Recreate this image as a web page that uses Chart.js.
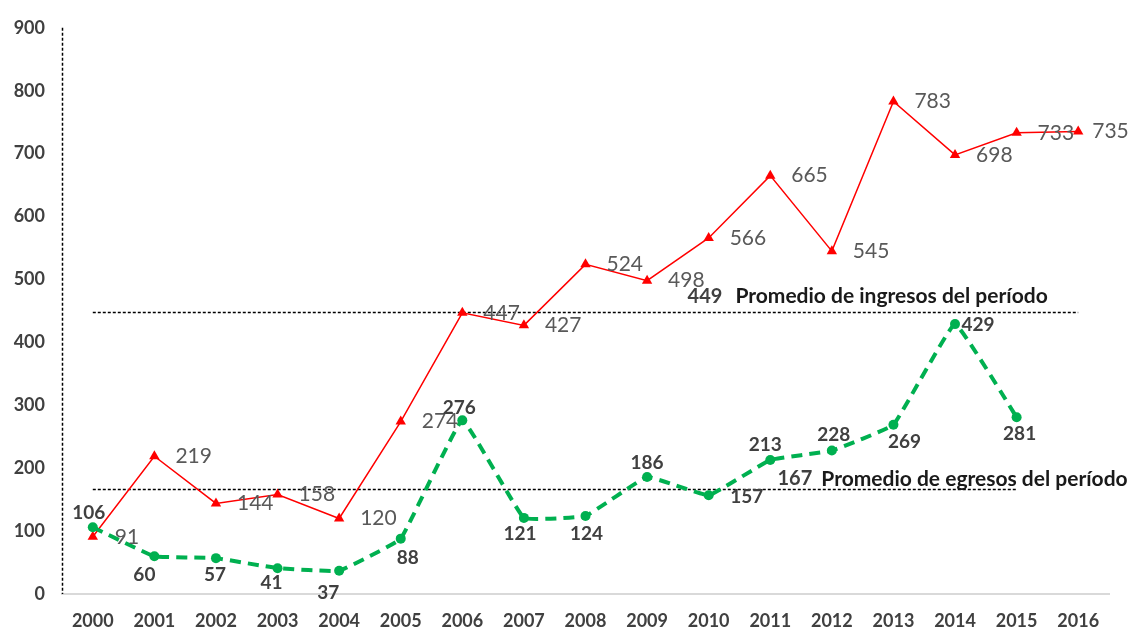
<!DOCTYPE html>
<html><head><meta charset="utf-8">
<script src="https://cdn.jsdelivr.net/npm/chart.js@4/dist/chart.umd.min.js"></script>
<style>html,body{margin:0;padding:0;background:#fff;}#wrap{width:1128px;height:629px;}</style>
</head><body><div id="wrap"><canvas id="c" width="1128" height="629"></canvas></div>
<script>
// ---- data ----
const years = ['2000','2001','2002','2003','2004','2005','2006','2007','2008','2009','2010','2011','2012','2013','2014','2015','2016'];
const ingresos = [91,219,144,158,120,274,447,427,524,498,566,665,545,783,698,733,735];
const egresos = [106,60,57,41,37,88,276,121,124,186,157,213,228,269,429,281];
const yMin = 0, yMax = 900, yStep = 100;
const promedioIngresos = 449;
const promedioEgresos = 167;
const promedioIngresosTexto = 'Promedio de ingresos del período';
const promedioEgresosTexto = 'Promedio de egresos del período';

// ---- label placement (pixels, relative to point) ----
const ingresosLabelDx = [22,21,21,21,21,21,21,21,21,21,21,21,21,21,21,21,14];
const egresosLabelDx = [-4,-10,-1,-6,-11,7,-3,-4,1,0,38,-5,2,11,23,3];
const egresosLabelDy = [-14,19,17,15,22,19,-12,16,18,-14,2,-15,-16,17,1,17];

const FONT = 'Lato, "Open Sans", "DejaVu Sans", sans-serif';

const avgLines = [
  {value: promedioIngresos, from: 0, to: 16, labelAt: 9.94, labelDy: -15, gap: 13, text: promedioIngresosTexto},
  {value: promedioEgresos, from: 0, to: 15, labelAt: 11.4, labelDy: -10, gap: 9, text: promedioEgresosTexto}
];

const avgPlugin = {
  id: 'avgLines',
  beforeDatasetsDraw(chart) {
    const ctx = chart.ctx, x = chart.scales.x, y = chart.scales.y;
    const ca = chart.chartArea;
    ctx.save();
    // dashed left axis
    ctx.beginPath();
    ctx.setLineDash([3, 2]);
    ctx.strokeStyle = '#000';
    ctx.lineWidth = 1.5;
    const lx = Math.round(ca.left) + 0.5;
    ctx.moveTo(lx, ca.top);
    ctx.lineTo(lx, ca.bottom);
    ctx.stroke();
    avgLines.forEach(a => {
      const py = Math.round(y.getPixelForValue(a.value)) + 0.5;
      ctx.beginPath();
      ctx.setLineDash([3, 2]);
      ctx.strokeStyle = '#000';
      ctx.lineWidth = 1.3;
      ctx.moveTo(x.getPixelForValue(a.from), py);
      ctx.lineTo(x.getPixelForValue(a.to), py);
      ctx.stroke();
    });
    ctx.restore();
  },
  afterDatasetsDraw(chart) {
    const ctx = chart.ctx, x = chart.scales.x, y = chart.scales.y;
    ctx.save();
    avgLines.forEach(a => {
      const py = y.getPixelForValue(a.value) + a.labelDy;
      const cx = x.getPixelForValue(a.labelAt);
      ctx.font = 'bold 20px ' + FONT;
      ctx.textBaseline = 'middle';
      ctx.textAlign = 'center';
      ctx.fillStyle = '#404040';
      const num = String(a.value);
      ctx.fillText(num, cx, py);
      const w = ctx.measureText(num).width;
      ctx.textAlign = 'left';
      ctx.fillStyle = '#1a1a1a';
      ctx.font = 'bold 21px ' + FONT;
      ctx.fillText(a.text, cx + w / 2 + a.gap, py);
    });
    ctx.restore();
  }
};

const labelPlugin = {
  id: 'pointLabels',
  afterDatasetsDraw(chart) {
    const ctx = chart.ctx;
    ctx.save();
    ctx.textBaseline = 'middle';
    const m0 = chart.getDatasetMeta(0);
    ctx.font = '21px ' + FONT;
    ctx.fillStyle = '#595959';
    ctx.textAlign = 'left';
    m0.data.forEach((p, i) => {
      ctx.fillText(String(ingresos[i]), p.x + ingresosLabelDx[i], p.y);
    });
    const m1 = chart.getDatasetMeta(1);
    ctx.font = 'bold 19px ' + FONT;
    ctx.fillStyle = '#404040';
    ctx.textAlign = 'center';
    m1.data.forEach((p, i) => {
      if (egresos[i] == null) return;
      ctx.fillText(String(egresos[i]), p.x + egresosLabelDx[i], p.y + egresosLabelDy[i]);
    });
    ctx.restore();
  }
};

new Chart(document.getElementById('c'), {
  type: 'line',
  data: {
    labels: years,
    datasets: [
      {
        label: 'Ingresos',
        data: ingresos,
        borderColor: '#ff0000',
        backgroundColor: '#ff0000',
        borderWidth: 1.5,
        pointStyle: 'triangle',
        pointRadius: 6,
        pointBorderWidth: 0,
        tension: 0,
        order: 2
      },
      {
        label: 'Egresos',
        data: egresos,
        borderColor: '#00b050',
        backgroundColor: '#00b050',
        borderWidth: 4,
        borderDash: [11, 7],
        pointStyle: 'circle',
        pointRadius: 5,
        pointBorderWidth: 0,
        tension: 0.08,
        order: 1
      }
    ]
  },
  options: {
    responsive: false,
    animation: false,
    devicePixelRatio: 1,
    layout: {padding: {top: 21, right: 19, left: 0, bottom: 0}},
    plugins: {legend: {display: false}, tooltip: {enabled: false}},
    scales: {
      x: {
        offset: true,
        grid: {display: false, drawTicks: false},
        border: {display: true, color: '#d9d9d9', width: 2},
        ticks: {font: {family: FONT, size: 18, weight: 'bold'}, color: '#404040', padding: 16, maxRotation: 0, autoSkip: false},
        afterFit(s) { s.height = 35; }
      },
      y: {
        min: yMin, max: yMax,
        grid: {display: false, drawTicks: false},
        border: {display: false},
        ticks: {stepSize: yStep, font: {family: FONT, size: 18, weight: 'bold'}, color: '#404040', padding: 17},
        afterFit(s) { s.width = 62; }
      }
    }
  },
  plugins: [avgPlugin, labelPlugin]
});
</script>
</body></html>
